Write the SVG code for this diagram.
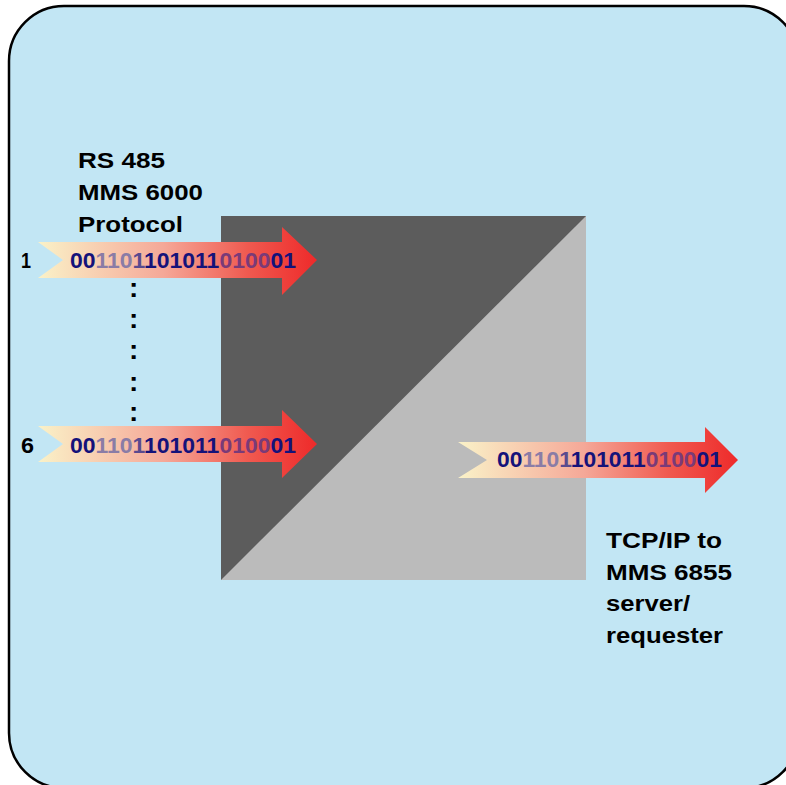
<svg xmlns="http://www.w3.org/2000/svg" width="786" height="785" viewBox="0 0 786 785">
<defs>
<linearGradient id="ag" x1="0" y1="0" x2="1" y2="0">
<stop offset="0" stop-color="#FAF2C8"/>
<stop offset="0.45" stop-color="#F5A898"/>
<stop offset="0.75" stop-color="#F05A50"/>
<stop offset="1" stop-color="#EE2A2A"/>
</linearGradient>
</defs>
<style>
.lbl{font-family:"Liberation Sans",Arial,sans-serif;font-weight:bold;font-size:22.5px;fill:#000}
.dot{font-family:"Liberation Sans",Arial,sans-serif;font-weight:bold;font-size:28px;fill:#000}
.bits{font-family:"Liberation Sans",Arial,sans-serif;font-weight:bold;font-size:21.5px;fill:#14127a}
.f{fill:#8a7ca6}
.m{fill:#5a4a8e}
.p{fill:#7a3a78}
.arrow{fill:url(#ag)}
</style>
<rect id="panel" x="9" y="6" width="790" height="782" rx="55" ry="55" fill="#C2E6F4" stroke="#000" stroke-width="2.5"/>
<g id="converter">
<rect x="221" y="216" width="365" height="364" fill="#5C5C5C"/>
<polygon points="586,216 586,580 221,580" fill="#BBBBBB"/>
</g>
<g id="input-label">
<text class="lbl" x="78" y="168" textLength="87" lengthAdjust="spacingAndGlyphs">RS 485</text>
<text class="lbl" x="78" y="200" textLength="125" lengthAdjust="spacingAndGlyphs">MMS 6000</text>
<text class="lbl" x="78" y="232" textLength="105" lengthAdjust="spacingAndGlyphs">Protocol</text>
</g>
<g id="dots">
<text class="dot" x="129" y="297">:</text>
<text class="dot" x="129" y="328">:</text>
<text class="dot" x="129" y="359">:</text>
<text class="dot" x="129" y="391">:</text>
<text class="dot" x="129" y="421">:</text>
</g>
<g id="connectors">
<g id="arrow-1">
<path class="arrow" d="M38,242 L282,242 L282,227 L317,260 L282,295 L282,278 L38,278 L63,260 Z"/>
<text class="lbl" x="21" y="268" textLength="10" lengthAdjust="spacingAndGlyphs">1</text>
<text class="bits" x="70" y="268" textLength="226" lengthAdjust="spacingAndGlyphs">00<tspan class="f">110</tspan><tspan class="m">1</tspan>101011<tspan class="p">0100</tspan>01</text>
</g>
<g id="arrow-6">
<path class="arrow" d="M38,426 L282,426 L282,410 L317,444 L282,478 L282,462 L38,462 L63,444 Z"/>
<text class="lbl" x="21" y="453" textLength="13" lengthAdjust="spacingAndGlyphs">6</text>
<text class="bits" x="70" y="453" textLength="226" lengthAdjust="spacingAndGlyphs">00<tspan class="f">110</tspan><tspan class="m">1</tspan>101011<tspan class="p">0100</tspan>01</text>
</g>
<g id="arrow-out">
<path class="arrow" d="M458,442 L705,442 L705,427 L738,460 L705,493 L705,478 L458,478 L487,460 Z"/>
<text class="bits" x="497" y="467" textLength="225" lengthAdjust="spacingAndGlyphs">00<tspan class="f">110</tspan><tspan class="m">1</tspan>101011<tspan class="p">0100</tspan>01</text>
</g>
</g>
<g id="output-label">
<text class="lbl" x="606" y="548" textLength="116" lengthAdjust="spacingAndGlyphs">TCP/IP to</text>
<text class="lbl" x="606" y="580" textLength="126" lengthAdjust="spacingAndGlyphs">MMS 6855</text>
<text class="lbl" x="606" y="611" textLength="84" lengthAdjust="spacingAndGlyphs">server/</text>
<text class="lbl" x="606" y="643" textLength="117" lengthAdjust="spacingAndGlyphs">requester</text>
</g>
</svg>
